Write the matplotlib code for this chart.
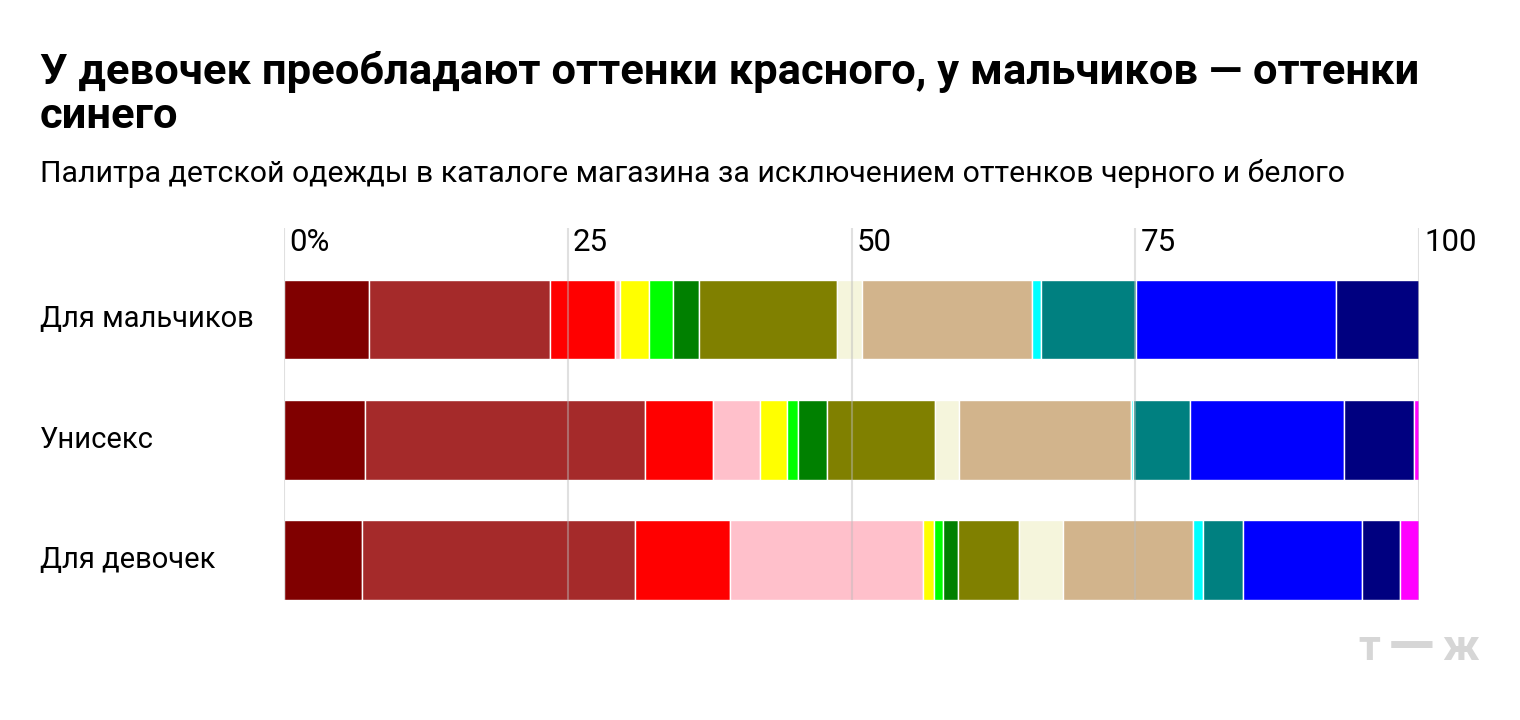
import matplotlib
matplotlib.use("Agg")
import matplotlib.pyplot as plt
import matplotlib.transforms as mtransforms
import numpy as np

plt.rcParams['font.family'] = ['Roboto', 'DejaVu Sans']

groups = ['Для мальчиков', 'Унисекс', 'Для девочек']
shades = ['maroon', 'brown', 'red', 'pink', 'yellow', 'lime', 'green', 'olive',
          'beige', 'tan', 'aqua', 'teal', 'blue', 'navy', 'fuchsia']
shade_colors = ['#800000', '#a52a2a', '#ff0000', '#ffc0cb', '#ffff00', '#00ff00',
                '#008000', '#808000', '#f5f5dc', '#d2b48c', '#00ffff', '#008080',
                '#0000ff', '#000080', '#ff00ff']
boys = [7.5, 15.9, 5.8, 0.4, 2.6, 2.1, 2.3, 12.1, 2.2, 15.0, 0.8, 8.4, 17.6, 7.3, 0.0]
unisex = [7.1, 24.7, 6.0, 4.1, 2.4, 1.0, 2.5, 9.6, 2.1, 15.1, 0.2, 5.0, 13.6, 6.2, 0.4]
girls = [6.9, 24.0, 8.4, 17.0, 1.0, 0.8, 1.3, 5.4, 3.8, 11.5, 0.9, 3.5, 10.5, 3.3, 1.7]
ticks = [0, 25, 50, 75, 100]
tick_labels = ['0%', '25', '50', '75', '100']

values = np.array([boys, unisex, girls])

fig = plt.figure(figsize=(15.2, 7.2), dpi=100)
ax = fig.add_axes([284 / 1520, 120 / 720, 1135 / 1520, 372 / 720])

ypos = np.arange(len(groups))
left = np.zeros(len(groups))
for i, col in enumerate(shade_colors):
    ax.barh(ypos, values[:, i], left=left, height=0.66, color=col,
            edgecolor='white', linewidth=1, zorder=2)
    left += values[:, i]

# gridlines sit over the bars, semi-transparent
for t in ticks:
    ax.axvline(t, color='#bbbbbb', alpha=0.45, lw=1.5, zorder=3)

ax.set_xlim(0, 100)
ax.set_ylim(2.33, -0.758)
ax.axis('off')

for t, lab in zip(ticks, tick_labels):
    ax.text(t + 0.45, -0.64, lab, fontsize=22.5, va='center', ha='left', color='#000000')

trans = mtransforms.blended_transform_factory(fig.transFigure, ax.transData)
for y, g in zip(ypos, groups):
    ax.text(40 / 1520, y, g, transform=trans, fontsize=21, va='center', ha='left')

fig.text(40 / 1520, 1 - 128 / 720,
         'У девочек преобладают оттенки красного, у мальчиков — оттенки\nсинего',
         fontsize=31.3, fontweight='bold', va='baseline', ha='left', linespacing=1.1)
fig.text(40 / 1520, 1 - 182 / 720,
         'Палитра детской одежды в каталоге магазина за исключением оттенков черного и белого',
         fontsize=21.8, va='baseline', ha='left')

# logo
logo_kw = dict(fontweight='bold', color='#d6d6d6', va='baseline')
fig.text(1358 / 1520, 1 - 660 / 720, 'т', ha='left', fontsize=31, **logo_kw)
fig.text(1411 / 1520, 1 - 666 / 720, '—', ha='center', fontsize=44, **logo_kw)
fig.text(1479 / 1520, 1 - 660 / 720, 'ж', ha='right', fontsize=31, **logo_kw)

fig.savefig('out.png', dpi=100)
